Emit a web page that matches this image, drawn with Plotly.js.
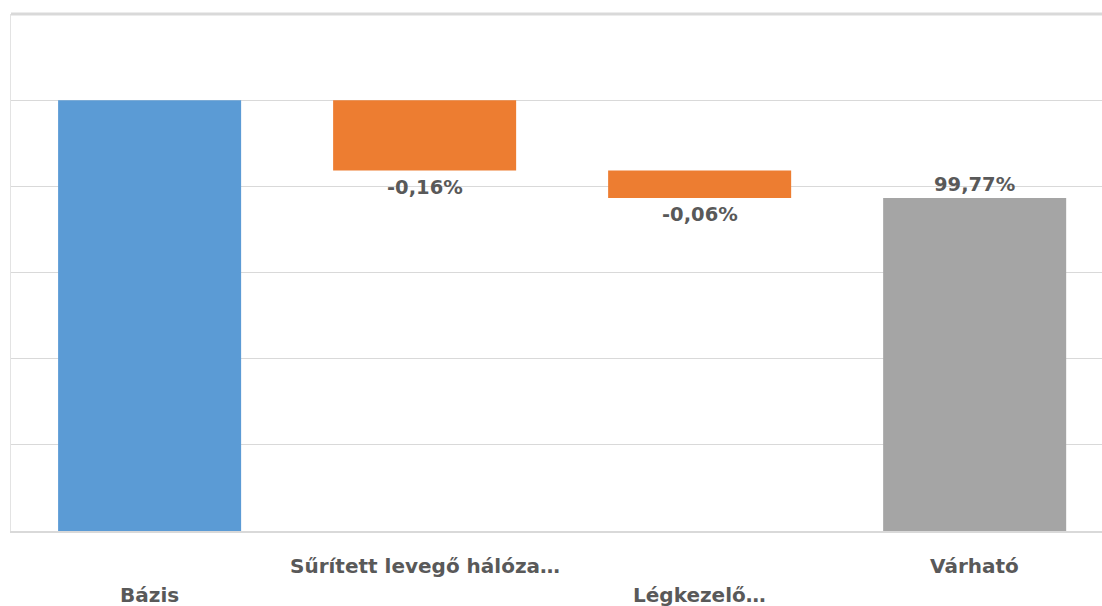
<!DOCTYPE html>
<html>
<head>
<meta charset="utf-8">
<script src="https://cdn.plot.ly/plotly-3.0.1.min.js"></script>
<style>html,body{margin:0;padding:0;background:#fff;}#chart{width:1102px;height:606px;}</style>
</head>
<body>
<div id="chart"></div>
<script>
// Data
const categories = ["Bázis", "Sűrített levegő hálóza…", "Légkezelő…", "Várható"];
const startValue = 100;          // Bázis
const changes = [-0.163, -0.064]; // the two reductions (percentage points)
const measures = ["absolute", "relative", "relative", "total"];
const labelRow = [1, 0, 1, 0];   // staggered category labels (0 = upper, 1 = lower)

// Build waterfall geometry from the data
const bases = [], heights = [], colors = [], labels = [], labelY = [], labelPos = [];
let running = 0;
let ci = 0;
measures.forEach((m, i) => {
  if (m === "absolute") {
    running = startValue;
    bases.push(0); heights.push(startValue); colors.push("#5b9bd5");
    labels.push(""); labelY.push(startValue); labelPos.push("none");
  } else if (m === "relative") {
    const d = changes[ci++];
    bases.push(running); heights.push(d); colors.push(d < 0 ? "#ed7d31" : "#5b9bd5");
    running += d;
    labels.push(d.toFixed(2).replace(".", ",") + "%");
    labelY.push(running); labelPos.push(d < 0 ? "below" : "above");
  } else {
    bases.push(0); heights.push(running); colors.push("#a5a5a5");
    labels.push(running.toFixed(2).replace(".", ",") + "%");
    labelY.push(running); labelPos.push("above");
  }
});

const FONT = "DejaVu Sans";
const TXT = "#595959";

const trace = {
  type: "bar",
  x: categories,
  y: heights,
  base: bases,
  marker: { color: colors, line: { width: 0 } },
  hoverinfo: "skip",
  showlegend: false
};

const annotations = [];
labels.forEach((t, i) => {
  if (!t) return;
  annotations.push({
    x: categories[i], y: labelY[i], xref: "x", yref: "y",
    text: "<b>" + t + "</b>", showarrow: false,
    yanchor: "middle", yshift: labelPos[i] === "below" ? -17 : 13,
    font: { family: FONT, size: 19.5, color: TXT }
  });
});
categories.forEach((c, i) => {
  annotations.push({
    x: c, y: 0, xref: "x", yref: "paper",
    text: "<b>" + c + "</b>", showarrow: false,
    yanchor: "middle", yshift: labelRow[i] === 0 ? -35 : -64,
    font: { family: FONT, size: 20, color: TXT }
  });
});

const layout = {
  width: 1102, height: 606,
  margin: { l: 11, r: 0, t: 14, b: 75 },
  paper_bgcolor: "#ffffff", plot_bgcolor: "#ffffff",
  bargap: 0.3345,
  xaxis: {
    type: "category", range: [-0.504, 3.463],
    showticklabels: false, ticks: "", showgrid: false,
    showline: true, linecolor: "#d9d9d9", linewidth: 2, zeroline: false
  },
  yaxis: {
    range: [99, 100.2], dtick: 0.2, tick0: 99,
    showticklabels: false, ticks: "",
    showgrid: true, gridcolor: "#d9d9d9", gridwidth: 1,
    showline: true, linecolor: "#e3e3e3", linewidth: 1, zeroline: false
  },
  shapes: [{
    type: "line", xref: "paper", yref: "paper", x0: 0, x1: 1, y0: 1, y1: 1,
    line: { color: "#d9d9d9", width: 3 }
  }],
  annotations: annotations,
  font: { family: FONT, color: TXT }
};

Plotly.newPlot("chart", [trace], layout, { displayModeBar: false, staticPlot: true });
</script>
</body>
</html>
